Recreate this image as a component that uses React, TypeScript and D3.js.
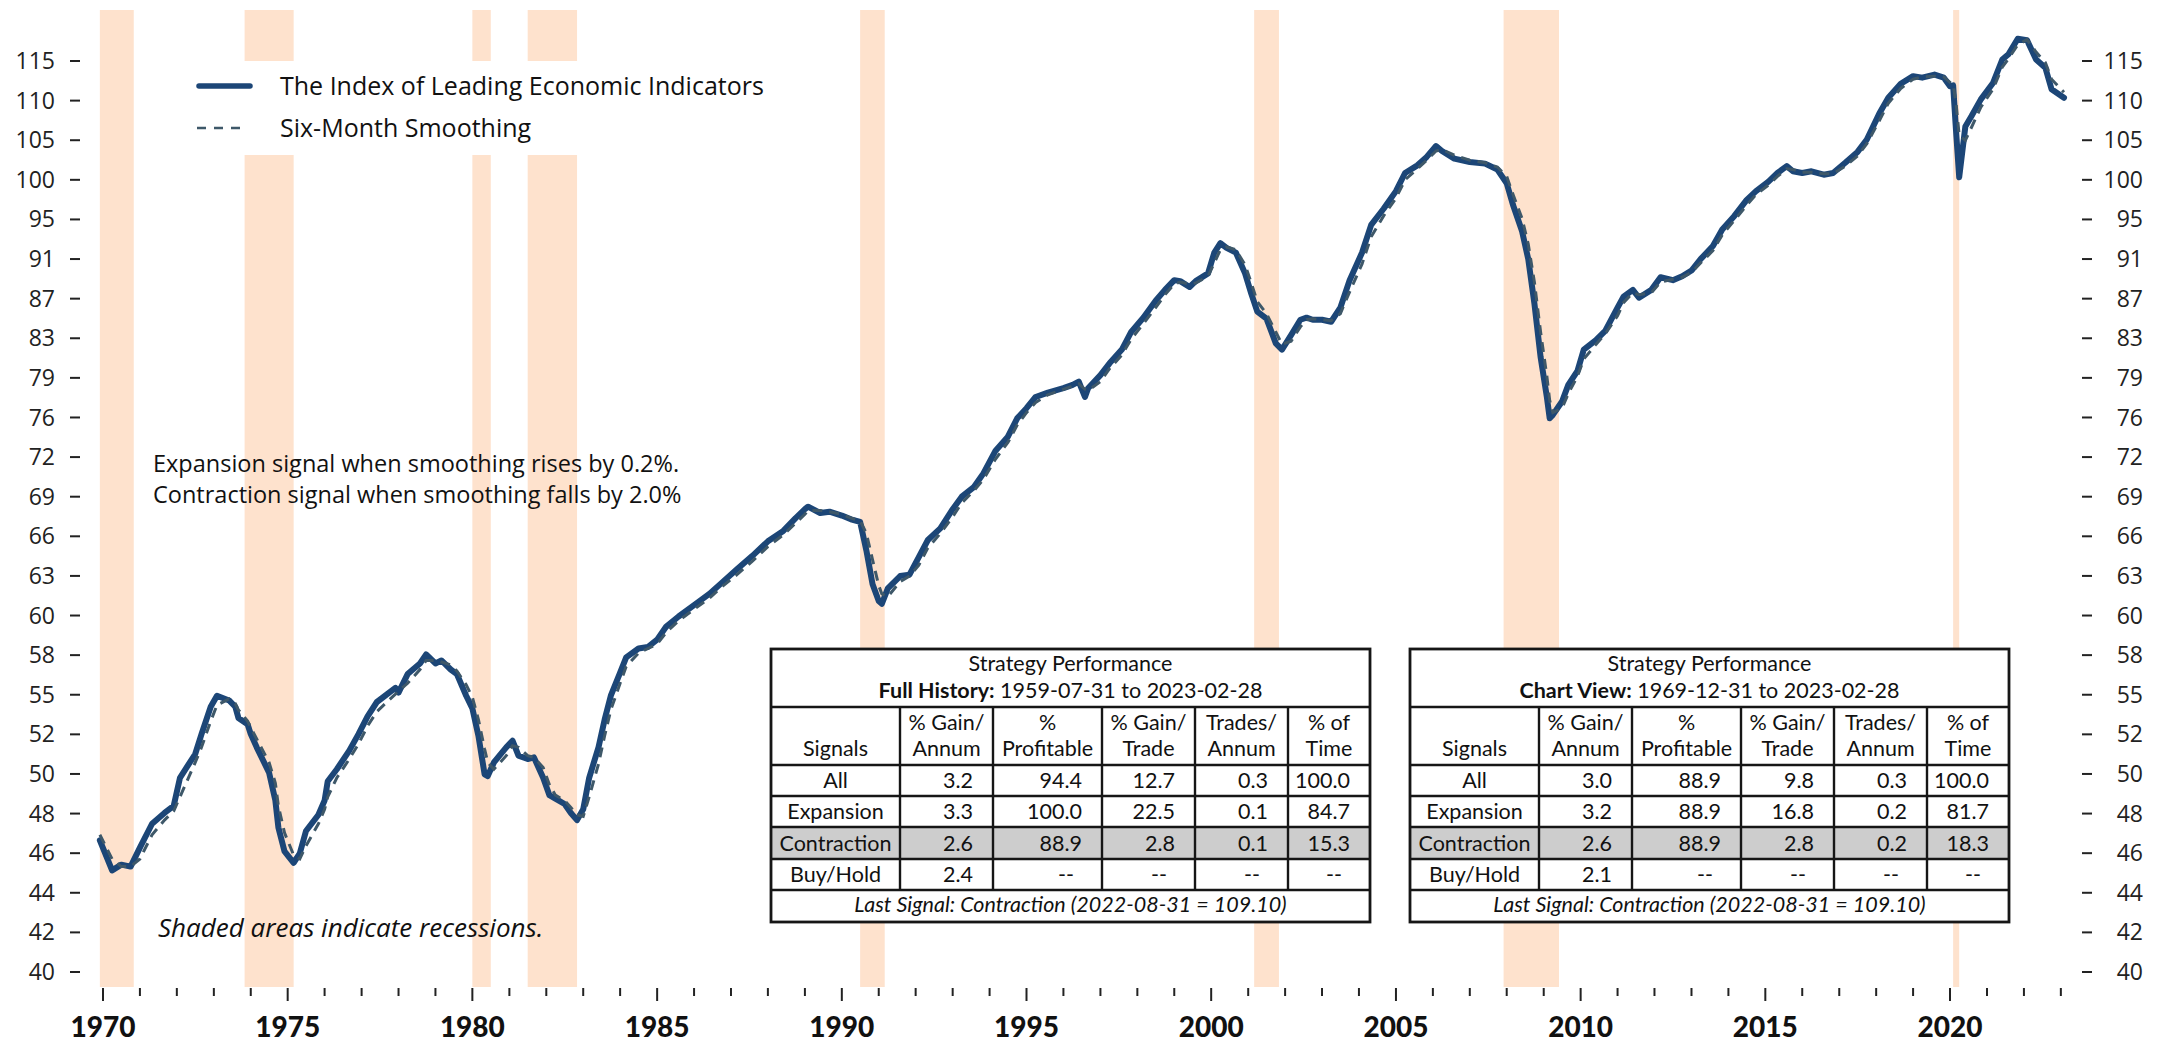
import React, { useEffect } from 'react';
import * as d3 from 'd3';

// ---------- DATA ----------
const leiDates = [
  '1969-12','1970-04','1970-07','1970-10','1971-01','1971-05','1971-09','1971-12','1972-02','1972-07','1972-09','1972-12',
  '1973-02','1973-06','1973-08','1973-09','1973-12','1974-01','1974-03','1974-07','1974-09','1974-10','1974-12','1975-03',
  '1975-05','1975-07','1975-11','1976-01','1976-02','1976-05','1976-09','1976-12','1977-03','1977-06','1977-12','1978-01',
  '1978-04','1978-08','1978-10','1979-01','1979-03','1979-06','1979-08','1979-11','1980-01','1980-03','1980-05','1980-06',
  '1980-08','1980-12','1981-02','1981-04','1981-07','1981-09','1981-12','1982-02','1982-04','1982-07','1982-09','1982-11',
  '1983-01','1983-03','1983-06','1983-08','1983-10','1984-01','1984-03','1984-07','1984-10','1985-01','1985-04','1985-08',
  '1986-01','1986-06','1986-10','1987-03','1987-08','1988-01','1988-06','1988-10','1989-01','1989-02','1989-06','1989-09',
  '1990-01','1990-04','1990-07','1990-09','1990-11','1991-01','1991-02','1991-04','1991-08','1991-11','1992-02','1992-05',
  '1992-09','1993-01','1993-04','1993-08','1993-11','1994-03','1994-07','1994-10','1995-01','1995-04','1995-08','1996-01',
  '1996-04','1996-06','1996-08','1996-09','1997-01','1997-04','1997-08','1997-11','1998-03','1998-07','1998-10','1999-01',
  '1999-03','1999-06','1999-08','1999-12','2000-02','2000-04','2000-06','2000-09','2000-12','2001-02','2001-04','2001-07',
  '2001-10','2001-12','2002-03','2002-06','2002-08','2002-10','2003-01','2003-04','2003-07','2003-10','2004-02','2004-05',
  '2004-09','2005-01','2005-04','2005-08','2005-11','2006-02','2006-04','2006-08','2007-01','2007-06','2007-10','2008-01',
  '2008-03','2008-06','2008-08','2008-10','2008-12','2009-02','2009-03','2009-04','2009-07','2009-09','2009-12','2010-02',
  '2010-06','2010-09','2011-01','2011-03','2011-06','2011-08','2011-12','2012-03','2012-07','2012-10','2013-01','2013-04',
  '2013-08','2013-11','2014-03','2014-07','2014-10','2015-02','2015-05','2015-08','2015-10','2016-01','2016-04','2016-08',
  '2016-11','2017-03','2017-07','2017-10','2018-02','2018-05','2018-09','2019-01','2019-04','2019-08','2019-11','2020-01',
  '2020-02','2020-03','2020-04','2020-06','2020-08','2020-11','2021-03','2021-06','2021-08','2021-11','2022-02','2022-05',
  '2022-08','2022-10','2023-02'
];

const leiValues = [
  46.6,45.0,45.3,45.2,46.2,47.5,48.1,48.5,50.1,51.5,52.7,54.4,
  55.1,54.8,54.4,53.7,53.3,52.7,51.9,50.4,48.8,47.3,46.0,45.4,
  45.9,47.1,48.0,48.8,49.9,50.6,51.7,52.7,53.8,54.7,55.6,55.3,
  56.5,57.2,57.8,57.2,57.4,56.8,56.5,55.1,54.3,52.6,50.3,50.2,
  51.0,51.9,52.3,51.4,51.2,51.3,50.1,49.1,48.9,48.6,48.1,47.7,
  48.3,50.1,51.9,53.6,55.1,56.6,57.6,58.2,58.3,58.8,59.7,60.4,
  61.2,62.0,62.8,63.8,64.8,65.9,66.7,67.7,68.4,68.6,68.1,68.2,
  67.9,67.6,67.4,65.2,62.7,61.5,61.3,62.4,63.3,63.4,64.7,66.0,
  66.9,68.4,69.4,70.2,71.3,73.2,74.4,76.0,76.9,77.9,78.3,78.7,
  79.0,79.3,77.9,78.7,79.9,81.0,82.3,84.0,85.4,87.1,88.2,89.2,
  89.1,88.5,89.1,89.9,92.1,93.1,92.6,92.1,89.9,87.8,86.0,85.3,
  82.9,82.3,83.7,85.2,85.4,85.2,85.2,85.0,86.4,89.2,92.1,95.1,
  96.9,98.9,101.0,101.9,102.9,104.2,103.6,102.7,102.3,102.1,101.4,99.8,
  97.4,94.4,91.4,86.8,81.6,77.9,76.0,76.3,77.5,79.0,80.3,82.3,
  83.2,84.1,86.4,87.5,88.2,87.4,88.2,89.5,89.2,89.6,90.2,91.4,
  92.8,94.6,96.1,97.9,98.9,100.0,101.0,101.8,101.2,101.0,101.2,100.8,
  101.0,102.2,103.5,105.0,108.2,110.2,112.0,113.0,112.8,113.2,112.8,111.7,
  111.8,106.0,100.5,106.6,107.9,110.0,112.1,115.2,115.9,118.0,117.8,115.2,
  114.1,111.3,110.2
];

const smoothValues = [
  46.9,45.6,45.2,45.2,45.6,46.9,47.7,48.2,49.0,51.0,51.9,53.5,
  54.5,54.9,54.6,54.2,53.5,53.1,52.4,51.0,49.8,48.5,47.0,45.8,
  45.6,46.3,47.5,48.3,49.0,50.1,51.2,52.1,53.2,54.1,55.2,55.4,
  55.9,56.8,57.4,57.4,57.3,57.1,56.7,55.8,55.0,53.6,51.8,51.0,
  50.6,51.4,52.0,51.9,51.4,51.3,50.7,49.7,49.1,48.8,48.4,48.0,
  47.9,49.0,50.9,52.6,54.2,55.9,57.0,57.9,58.2,58.5,59.3,60.1,
  60.9,61.7,62.5,63.4,64.4,65.5,66.4,67.3,68.0,68.3,68.3,68.2,
  68.0,67.7,67.5,66.5,64.5,62.6,62.0,61.8,62.9,63.3,64.1,65.4,
  66.5,67.8,68.9,69.9,70.8,72.5,73.9,75.4,76.5,77.4,78.1,78.6,
  78.9,79.1,78.6,78.5,79.3,80.5,81.8,83.3,84.8,86.4,87.7,88.8,
  89.0,88.8,88.9,89.6,91.0,92.4,92.7,92.4,90.8,88.9,87.0,85.8,
  84.0,82.8,83.1,84.5,85.2,85.3,85.2,85.1,85.8,88.0,90.9,93.8,
  96.1,98.1,100.2,101.5,102.5,103.6,103.8,103.1,102.5,102.2,101.7,100.6,
  98.6,95.8,93.0,89.0,84.0,79.8,77.6,76.5,76.9,78.2,79.8,81.4,
  82.8,83.8,85.6,86.9,87.9,87.7,87.9,89.0,89.3,89.5,90.0,91.0,
  92.3,94.0,95.6,97.3,98.5,99.6,100.6,101.5,101.4,101.1,101.1,100.9,
  100.9,101.8,103.0,104.5,107.3,109.5,111.4,112.6,112.9,113.0,112.9,112.2,
  111.9,109.5,105.5,104.9,106.5,109.0,111.3,114.2,115.3,117.2,117.9,116.2,
  114.8,112.6,110.9
];

const recessionStarts = ['1969-12','1973-11','1980-01','1981-07','1990-07','2001-03','2007-12','2020-02'];
const recessionEnds   = ['1970-11','1975-03','1980-07','1982-11','1991-03','2001-11','2009-06','2020-04'];

const yTickLabels = ['40','42','44','46','48','50','52','55','58','60','63','66','69','72','76','79','83','87','91','95','100','105','110','115'];
const yearLabels = [1970,1975,1980,1985,1990,1995,2000,2005,2010,2015,2020];
const firstYear = 1970;
const lastYear = 2023;

const legendLabels = ['The Index of Leading Economic Indicators', 'Six-Month Smoothing'];
const noteLines = ['Expansion signal when smoothing rises by 0.2%.', 'Contraction signal when smoothing falls by 2.0%'];
const recessionNote = 'Shaded areas indicate recessions.';

const tableHeaders = [['', 'Signals'], ['% Gain/', 'Annum'], ['%', 'Profitable'], ['% Gain/', 'Trade'], ['Trades/', 'Annum'], ['% of', 'Time']];
const rowLabels = ['All', 'Expansion', 'Contraction', 'Buy/Hold'];
const fullHistoryRows = [
  ['3.2', '94.4', '12.7', '0.3', '100.0'],
  ['3.3', '100.0', '22.5', '0.1', '84.7'],
  ['2.6', '88.9', '2.8', '0.1', '15.3'],
  ['2.4', '--', '--', '--', '--'],
];
const chartViewRows = [
  ['3.0', '88.9', '9.8', '0.3', '100.0'],
  ['3.2', '88.9', '16.8', '0.2', '81.7'],
  ['2.6', '88.9', '2.8', '0.2', '18.3'],
  ['2.1', '--', '--', '--', '--'],
];
const fullHistoryTitle = ['Full History:', ' 1959-07-31 to 2023-02-28'];
const chartViewTitle = ['Chart View:', ' 1969-12-31 to 2023-02-28'];
const lastSignalText = 'Last Signal: Contraction (2022-08-31 = 109.10)';

// ---------- STYLE / LAYOUT ----------
const W = 2169, H = 1050;
const plotTop = 10, plotBottom = 987;
const LINE_COLOR = '#1c4677';
const SMOOTH_COLOR = '#3e5869';
const SHADE = '#fee2cd';
const AXIS_FONT = '"Open Sans", "Noto Sans", sans-serif';
const TABLE_FONT = 'Lato, "Open Sans", sans-serif';

const parse = d3.timeParse('%Y-%m');

const x = d3.scaleTime()
  .domain([new Date(1970, 0, 1), new Date(2020, 0, 1)])
  .range([103, 1950]);

const y = d3.scaleLog().domain([40, 115]).range([972, 61]);

const tickValues = yTickLabels.map((_, i) => 40 * Math.pow(115 / 40, i / (yTickLabels.length - 1)));

type Pt = { d: Date; v: number };
const leiData: Pt[] = leiDates.map((s, i) => ({ d: parse(s) as Date, v: leiValues[i] }));
const smoothData: Pt[] = leiDates.map((s, i) => ({ d: parse(s) as Date, v: smoothValues[i] }));

const lineGen = d3.line<Pt>().x(p => x(p.d)).y(p => y(p.v));

const colEdges = [0, 129, 222, 331, 424, 517, 599];
const rowEdges = [0, 58, 116, 147, 178, 210, 241, 273];

function PerfTable({ left, top, title, rows }: { left: number; top: number; title: string[]; rows: string[][] }) {
  const width = colEdges[colEdges.length - 1];
  const height = rowEdges[rowEdges.length - 1];
  const cx = (i: number) => left + (colEdges[i] + colEdges[i + 1]) / 2;
  const lineW = 2.4;
  const stroke = '#161616';
  return (
    <g fontFamily={TABLE_FONT} fontSize={21.5} fill="#111">
      <rect x={left} y={top} width={width} height={height} fill="#fff" />
      <rect x={left} y={top + rowEdges[4]} width={width} height={rowEdges[5] - rowEdges[4]} fill="#cdcdcd" />
      {/* title */}
      <text x={left + width / 2} y={top + 22} textAnchor="middle">Strategy Performance</text>
      <text x={left + width / 2} y={top + 49} textAnchor="middle">
        <tspan fontWeight={700}>{title[0]}</tspan>
        <tspan>{title[1]}</tspan>
      </text>
      {/* header */}
      {tableHeaders.map((h, i) => (
        <g key={'h' + i}>
          <text x={cx(i)} y={top + 81} textAnchor="middle">{h[0]}</text>
          <text x={cx(i)} y={top + 107} textAnchor="middle">{h[1]}</text>
        </g>
      ))}
      {/* rows */}
      {rowLabels.map((lab, r) => {
        const base = top + rowEdges[r + 3] - 8.5;
        return (
          <g key={'r' + r}>
            <text x={cx(0)} y={base} textAnchor="middle">{lab}</text>
            {rows[r].map((val, c) => (
              <text key={c} x={left + colEdges[c + 2] - (val === '--' ? 28 : 20)} y={base} textAnchor="end">{val}</text>
            ))}
          </g>
        );
      })}
      <text x={left + width / 2} y={top + rowEdges[7] - 10} textAnchor="middle" fontStyle="italic">{lastSignalText}</text>
      {/* grid lines */}
      {[1, 2, 3, 4, 5, 6].map(r => (
        <line key={'hl' + r} x1={left} x2={left + width} y1={top + rowEdges[r]} y2={top + rowEdges[r]} stroke={stroke} strokeWidth={lineW} />
      ))}
      {[1, 2, 3, 4, 5].map(c => (
        <line key={'vl' + c} x1={left + colEdges[c]} x2={left + colEdges[c]} y1={top + rowEdges[1]} y2={top + rowEdges[6]} stroke={stroke} strokeWidth={lineW} />
      ))}
      <rect x={left} y={top} width={width} height={height} fill="none" stroke={stroke} strokeWidth={2.8} />
    </g>
  );
}

export default function App() {
  useEffect(() => {
    document.body.style.margin = '0';
  }, []);

  const yearTicks = d3.range(firstYear, lastYear + 1).map(yr => new Date(yr, 0, 1));

  return (
    <svg width={W} height={H} style={{ position: 'absolute', left: 0, top: 0, background: '#fff' }}>
      <rect x={0} y={0} width={W} height={H} fill="#fff" />
      {/* recessions */}
      {recessionStarts.map((s, i) => {
        const x0 = x(parse(s) as Date);
        const x1 = x(parse(recessionEnds[i]) as Date);
        return <rect key={'rec' + i} x={x0} y={plotTop} width={x1 - x0} height={plotBottom - plotTop} fill={SHADE} />;
      })}

      {/* legend box */}
      <rect x={150} y={61} width={650} height={94} fill="#fff" />
      <line x1={199} x2={250} y1={86} y2={86} stroke={LINE_COLOR} strokeWidth={5.5} strokeLinecap="round" />
      <line x1={197} x2={248} y1={128} y2={128} stroke={SMOOTH_COLOR} strokeWidth={2.6} strokeDasharray="9,8" />
      <text x={280} y={95} fontFamily={AXIS_FONT} fontSize={25} fill="#111">{legendLabels[0]}</text>
      <text x={280} y={137} fontFamily={AXIS_FONT} fontSize={25} fill="#111">{legendLabels[1]}</text>

      {/* notes */}
      <text fontFamily={AXIS_FONT} fontSize={23.5} fill="#111">
        <tspan x={153} y={472}>{noteLines[0]}</tspan>
        <tspan x={153} y={503}>{noteLines[1]}</tspan>
      </text>
      <text x={158} y={937} fontFamily={AXIS_FONT} fontSize={26} fontStyle="italic" fill="#111">{recessionNote}</text>

      {/* lines */}
      <path d={lineGen(leiData) || ''} fill="none" stroke={LINE_COLOR} strokeWidth={6} strokeLinejoin="round" strokeLinecap="round" />
      <path d={lineGen(smoothData) || ''} fill="none" stroke={SMOOTH_COLOR} strokeWidth={3} strokeDasharray="10,7" />

      {/* tables */}
      <PerfTable left={771} top={649} title={fullHistoryTitle} rows={fullHistoryRows} />
      <PerfTable left={1410} top={649} title={chartViewTitle} rows={chartViewRows} />

      {/* y axes */}
      {tickValues.map((tv, i) => (
        <g key={'yt' + i} fontFamily={AXIS_FONT} fontSize={23} fill="#222">
          <line x1={70} x2={80} y1={y(tv)} y2={y(tv)} stroke="#222" strokeWidth={2} />
          <text x={55} y={y(tv)} dy="0.35em" textAnchor="end">{yTickLabels[i]}</text>
          <line x1={2082} x2={2092} y1={y(tv)} y2={y(tv)} stroke="#222" strokeWidth={2} />
          <text x={2143} y={y(tv)} dy="0.35em" textAnchor="end">{yTickLabels[i]}</text>
        </g>
      ))}

      {/* x axis */}
      {yearTicks.map((d, i) => {
        const major = yearLabels.includes(d.getFullYear());
        return (
          <line key={'xt' + i} x1={x(d)} x2={x(d)} y1={988} y2={major ? 1001 : 996} stroke="#222" strokeWidth={2} />
        );
      })}
      {yearLabels.map(yr => (
        <text key={'yl' + yr} x={x(new Date(yr, 0, 1))} y={1037} textAnchor="middle" fontFamily={TABLE_FONT} fontWeight={900} fontSize={28} fill="#111">{yr}</text>
      ))}
    </svg>
  );
}
